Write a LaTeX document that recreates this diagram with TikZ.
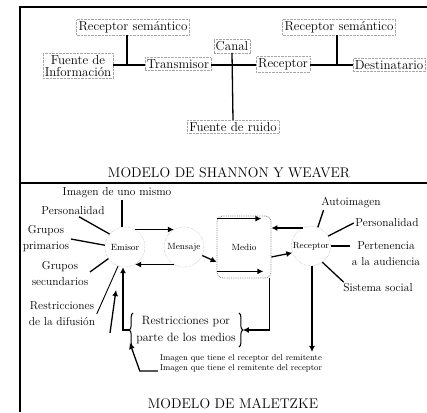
\documentclass[tikz,border=0pt]{standalone}
\usepackage{tikz}
\usetikzlibrary{arrows.meta,positioning,decorations.pathreplacing,calc}
\tikzset{
    x=1pt,y=-1pt,semithick,
    lbl/.style={inner sep=2pt, align=center, font=\fontsize{13}{12}\selectfont},
    box/.style={lbl, draw=black!35, densely dotted},
    ml/.style={inner sep=1.5pt, align=center, font=\fontsize{11.5}{16}\selectfont},
    proc/.style={circle, draw=black!40, densely dotted, minimum size=40pt, inner sep=1pt, font=\fontsize{9}{10}\selectfont},
    link/.style={line width=1.3pt, solid},
    flow/.style={link, -{Latex[length=6pt,width=6pt]}},
    title/.style={font=\fontsize{14}{16}\selectfont}
}
\begin{document}
\begin{tikzpicture}
    \useasboundingbox (0,0) rectangle (427,412);
    % Frame of the page
    \draw[line width=1.2pt] (20,412) -- (20,7) -- (427,7);
    \draw[line width=1.2pt] (20,183) -- (427,183);
    % Shannon and Weaver
    \node[box] (recsemA) at (133,27) {Receptor semántico};
    \node[box] (fuente) at (78,66) {Fuente de\\Información};
    \node[box] (transmisor) at (178,64) {Transmisor};
    \node[box] (canal) at (232,46) {Canal};
    \node[box] (ruido) at (233,127) {Fuente de ruido};
    \node[box] (receptorS) at (283,64) {Receptor};
    \node[box] (recsemB) at (339,27) {Receptor semántico};
    \node[box] (destino) at (389,65) {Destinatario};
    \coordinate (jA) at (127,65);
    \coordinate (cross) at (232,65);
    \coordinate (jB) at (337,65);
    % Draw the channel lines
    \draw[link] (fuente.east |- jA) -- (transmisor.west |- jA);
    \draw[link] (recsemA.south -| jA) -- (jA);
    \draw[link] (transmisor.east |- cross) -- (receptorS.west |- cross);
    \draw[link] (canal.south) -- (ruido.north);
    \draw[link] (receptorS.east |- jB) -- (destino.west |- jB);
    \draw[link] (recsemB.south -| jB) -- (jB);
    \node[title] (titleS) at (229,173) {MODELO DE SHANNON Y WEAVER};
    % Maletzke
    \node[proc] (emisor) at (125,247) {Emisor};
    \node[proc] (mensaje) at (184,247) {Mensaje};
    \node[rectangle, rounded corners=6pt, draw=black!50, densely dotted, thick,
          minimum width=54pt, minimum height=62pt, font=\fontsize{9}{10}\selectfont] (medio) at (244,247) {Medio};
    \node[proc, minimum size=38pt] (receptor) at (311,246) {Receptor};
    % Label the sender side
    \node[ml] (imagenUno) at (117,193) {Imagen de uno mismo};
    \node[ml] (persA) at (73,211) {Personalidad};
    \node[ml] (gruposA) at (46,239) {Grupos\\primarios};
    \node[ml] (gruposB) at (60,274) {Grupos\\secundarios};
    \node[ml] (difusion) at (62,314) {Restricciones\\de la difusión};
    \node[ml, font=\fontsize{12}{17}\selectfont, inner sep=3pt] (restMedios) at (186,330) {Restricciones por\\parte de los medios};
    \node[inner sep=2pt, align=center, font=\fontsize{8.5}{10}\selectfont] (imagTxt) at (241,363) {Imagen que tiene el receptor del remitente\\Imagen que tiene el remitente del receptor};
    % Label the receiver side
    \node[ml] (autoimagen) at (351,203) {Autoimagen};
    \node[ml] (persB) at (387,223) {Personalidad};
    \node[ml] (pert) at (386,254) {Pertenencia\\a la audiencia};
    \node[ml] (sistema) at (378,288) {Sistema social};
    \node[title] (titleM) at (233,404) {MODELO DE MALETZKE};
    % Draw the influences
    \draw[link] ([xshift=-3pt]emisor.north) -- ([xshift=-3pt]emisor.north |- imagenUno.south);
    \draw[link] ([xshift=6pt]persA.south) -- (emisor.140);
    \draw[link] (gruposA.east) -- (emisor.175);
    \draw[link] ([yshift=2pt]gruposB.east) -- (emisor.215);
    \draw[link, line width=0.9pt] (difusion.east) -- (emisor.250);
    \draw[link] ([xshift=4pt]autoimagen.south west) -- (receptor.70);
    \draw[link] (persB.west) -- (receptor.30);
    \draw[link] (receptor.east) -- (receptor.east -| pert.west);
    \draw[link] ([xshift=2pt]sistema.north west) -- (receptor.305);
    % Draw the flows
    \draw[flow] (emisor.60) -- (mensaje.120);
    \draw[flow] (mensaje.240) -- (emisor.300);
    \draw[flow] (mensaje.335) -- ([yshift=-15pt]medio.west);
    \draw[flow] ([yshift=-3pt]medio.north west) -- ([xshift=-10pt,yshift=-3pt]medio.north east);
    \draw[flow] ([yshift=7pt]medio.south west) -- ([xshift=-8pt,yshift=7pt]medio.south east);
    \draw[flow] (receptor.115) -- (receptor.115 -| medio.east);
    \draw[flow] ([yshift=-10pt]medio.east) -- (receptor.200);
    % Brackets and feedback
    \draw[link, line width=1pt, decorate, decoration={brace, amplitude=4pt}] (restMedios.south west) -- (restMedios.north west);
    \draw[link, line width=1pt, decorate, decoration={brace, amplitude=4pt}] (restMedios.north east) -- (restMedios.south east);
    \draw[flow] ([xshift=-4pt]restMedios.west) -| ([xshift=-2pt]emisor.south);
    \draw[flow] ([xshift=-2pt]medio.south east) |- ([xshift=4pt]restMedios.east);
    \draw[flow] ([xshift=1pt]receptor.south) -- ([xshift=1pt]receptor.south |- imagTxt.north);
    \coordinate (imgTail) at (110,333);
    \draw[flow] (imgTail) -- ++(6,-43);
    \draw[flow] ([yshift=3pt]imagTxt.south west) -- ++(-18,0) -- ++(-10,-28);
\end{tikzpicture}
\end{document}
